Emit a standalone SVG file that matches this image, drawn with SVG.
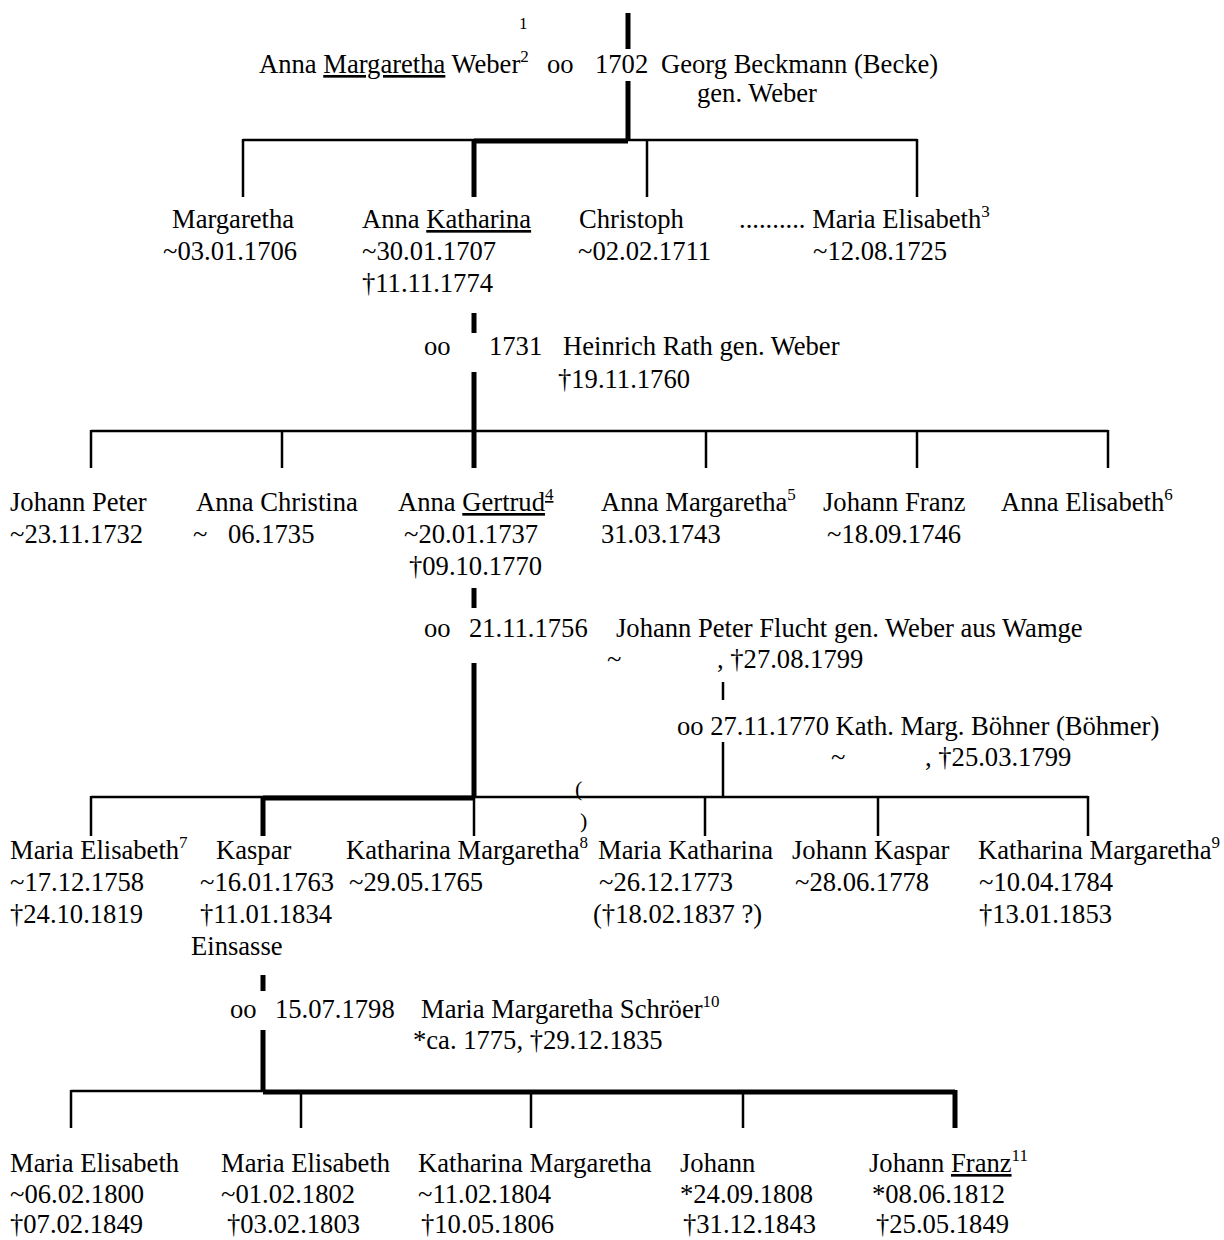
<svg xmlns="http://www.w3.org/2000/svg" width="1224" height="1240" viewBox="0 0 1224 1240">
<style>
.t{font-family:"Liberation Serif","Times New Roman",serif;font-size:26.6px;fill:#000}
.s{font-size:17px}
.u{text-decoration:underline}
.p{font-size:22px}
.thin{stroke:#000;stroke-width:2.5;fill:none}
.thick{stroke:#000;stroke-width:5;fill:none}
</style>
<rect width="1224" height="1240" fill="#fff"/>
<g id="connectors">
<line class="thick" x1="628" y1="13" x2="628" y2="49"/>
<line class="thick" x1="628" y1="81" x2="628" y2="141"/>
<line class="thin" x1="243" y1="140" x2="917" y2="140"/>
<line class="thick" x1="474" y1="141" x2="628" y2="141"/>
<line class="thin" x1="243" y1="139" x2="243" y2="197"/>
<line class="thick" x1="474" y1="139" x2="474" y2="197"/>
<line class="thin" x1="647" y1="139" x2="647" y2="197"/>
<line class="thin" x1="917" y1="139" x2="917" y2="197"/>
<line class="thick" x1="474" y1="313" x2="474" y2="333"/>
<line class="thick" x1="474" y1="372" x2="474" y2="468"/>
<line class="thin" x1="91" y1="431" x2="1108" y2="431"/>
<line class="thin" x1="91" y1="430" x2="91" y2="468"/>
<line class="thin" x1="282" y1="430" x2="282" y2="468"/>
<line class="thin" x1="706" y1="430" x2="706" y2="468"/>
<line class="thin" x1="917" y1="430" x2="917" y2="468"/>
<line class="thin" x1="1108" y1="430" x2="1108" y2="468"/>
<line class="thick" x1="474" y1="588" x2="474" y2="608"/>
<line class="thick" x1="474" y1="663" x2="474" y2="798"/>
<line class="thin" x1="723" y1="682" x2="723" y2="700"/>
<line class="thin" x1="723" y1="742" x2="723" y2="797"/>
<line class="thin" x1="91" y1="797" x2="1088" y2="797"/>
<line class="thick" x1="263" y1="798" x2="474" y2="798"/>
<line class="thin" x1="91" y1="796" x2="91" y2="836"/>
<line class="thick" x1="263" y1="796" x2="263" y2="836"/>
<line class="thin" x1="474" y1="796" x2="474" y2="836"/>
<line class="thin" x1="705" y1="796" x2="705" y2="836"/>
<line class="thin" x1="878" y1="796" x2="878" y2="836"/>
<line class="thin" x1="1088" y1="796" x2="1088" y2="836"/>
<line class="thick" x1="263" y1="975" x2="263" y2="991"/>
<line class="thick" x1="263" y1="1030" x2="263" y2="1092"/>
<line class="thin" x1="71" y1="1091" x2="263" y2="1091"/>
<line class="thick" x1="263" y1="1092" x2="955" y2="1092"/>
<line class="thin" x1="71" y1="1090" x2="71" y2="1128"/>
<line class="thin" x1="301" y1="1090" x2="301" y2="1128"/>
<line class="thin" x1="531" y1="1090" x2="531" y2="1128"/>
<line class="thin" x1="743" y1="1090" x2="743" y2="1128"/>
<line class="thick" x1="955" y1="1090" x2="955" y2="1128"/>
</g>
<g id="n-top">
<text x="519" y="29" class="t s">1</text>
<text x="259" y="73" class="t">Anna <tspan class="u">Margaretha</tspan> Weber<tspan class="s" dy="-11">2</tspan></text>
<text x="547" y="73" class="t">oo</text>
<text x="595" y="73" class="t">1702</text>
<text x="661" y="73" class="t">Georg Beckmann (Becke)</text>
<text x="697" y="102" class="t">gen. Weber</text>
</g>
<g id="n-margaretha"><text x="172" y="228" class="t">Margaretha</text><text x="163" y="260" class="t">~03.01.1706</text></g>
<g id="n-annakatharina"><text x="362" y="228" class="t">Anna <tspan class="u">Katharina</tspan></text><text x="362" y="260" class="t">~30.01.1707</text><text x="362" y="292" class="t">†11.11.1774</text></g>
<g id="n-christoph"><text x="579" y="228" class="t">Christoph</text><text x="578" y="260" class="t">~02.02.1711</text></g>
<g id="n-mariaelisabeth1"><text x="739" y="228" class="t">.......... Maria Elisabeth<tspan class="s" dy="-11">3</tspan></text><text x="813" y="260" class="t">~12.08.1725</text></g>
<g id="n-heinrich"><text x="424" y="355" class="t">oo</text><text x="489" y="355" class="t">1731</text><text x="563" y="355" class="t">Heinrich Rath gen. Weber</text><text x="558" y="388" class="t">†19.11.1760</text></g>
<g id="n-johannpeter"><text x="10" y="511" class="t">Johann Peter</text><text x="10" y="543" class="t">~23.11.1732</text></g>
<g id="n-annachristina"><text x="196" y="511" class="t">Anna Christina</text><text x="193" y="543" class="t">~</text><text x="228" y="543" class="t">06.1735</text></g>
<g id="n-annagertrud"><text x="398" y="511" class="t">Anna <tspan class="u">Gertrud<tspan class="s" dy="-11">4</tspan></tspan></text><text x="404" y="543" class="t">~20.01.1737</text><text x="409" y="575" class="t">†09.10.1770</text></g>
<g id="n-annamargaretha"><text x="601" y="511" class="t">Anna Margaretha<tspan class="s" dy="-11">5</tspan></text><text x="601" y="543" class="t">31.03.1743</text></g>
<g id="n-johannfranz1"><text x="823" y="511" class="t">Johann Franz</text><text x="827" y="543" class="t">~18.09.1746</text></g>
<g id="n-annaelisabeth"><text x="1001" y="511" class="t">Anna Elisabeth<tspan class="s" dy="-11">6</tspan></text></g>
<g id="n-flucht"><text x="424" y="637" class="t">oo</text><text x="469" y="637" class="t">21.11.1756</text><text x="616" y="637" class="t">Johann Peter Flucht gen. Weber aus Wamge</text><text x="607" y="668" class="t">~</text><text x="717" y="668" class="t">, †27.08.1799</text></g>
<g id="n-boehner"><text x="677" y="735" class="t">oo 27.11.1770 Kath. Marg. Böhner (Böhmer)</text><text x="831" y="766" class="t">~</text><text x="925" y="766" class="t">, †25.03.1799</text></g>
<g id="n-mariaelisabeth2"><text x="10" y="859" class="t">Maria Elisabeth<tspan class="s" dy="-11">7</tspan></text><text x="10" y="891" class="t">~17.12.1758</text><text x="10" y="923" class="t">†24.10.1819</text></g>
<g id="n-kaspar"><text x="216" y="859" class="t">Kaspar</text><text x="200" y="891" class="t">~16.01.1763</text><text x="200" y="923" class="t">†11.01.1834</text><text x="191" y="955" class="t">Einsasse</text></g>
<g id="n-katharinamargaretha1"><text x="346" y="859" class="t">Katharina Margaretha<tspan class="s" dy="-11">8</tspan></text><text x="349" y="891" class="t">~29.05.1765</text><text x="575" y="796" class="t p">(</text><text x="580" y="828" class="t p">)</text></g>
<g id="n-mariakatharina"><text x="598" y="859" class="t">Maria Katharina</text><text x="599" y="891" class="t">~26.12.1773</text><text x="593" y="923" class="t">(†18.02.1837 ?)</text></g>
<g id="n-johannkaspar"><text x="792" y="859" class="t">Johann Kaspar</text><text x="795" y="891" class="t">~28.06.1778</text></g>
<g id="n-katharinamargaretha2"><text x="978" y="859" class="t">Katharina Margaretha<tspan class="s" dy="-11">9</tspan></text><text x="979" y="891" class="t">~10.04.1784</text><text x="979" y="923" class="t">†13.01.1853</text></g>
<g id="n-schroeer"><text x="230" y="1018" class="t">oo</text><text x="275" y="1018" class="t">15.07.1798</text><text x="421" y="1018" class="t">Maria Margaretha Schröer<tspan class="s" dy="-11">10</tspan></text><text x="413" y="1049" class="t">*ca. 1775, †29.12.1835</text></g>
<g id="n-mariaelisabeth3"><text x="10" y="1172" class="t">Maria Elisabeth</text><text x="10" y="1203" class="t">~06.02.1800</text><text x="10" y="1233" class="t">†07.02.1849</text></g>
<g id="n-mariaelisabeth4"><text x="221" y="1172" class="t">Maria Elisabeth</text><text x="221" y="1203" class="t">~01.02.1802</text><text x="227" y="1233" class="t">†03.02.1803</text></g>
<g id="n-katharinamargaretha3"><text x="418" y="1172" class="t">Katharina Margaretha</text><text x="418" y="1203" class="t">~11.02.1804</text><text x="421" y="1233" class="t">†10.05.1806</text></g>
<g id="n-johann"><text x="680" y="1172" class="t">Johann</text><text x="680" y="1203" class="t">*24.09.1808</text><text x="683" y="1233" class="t">†31.12.1843</text></g>
<g id="n-johannfranz2"><text x="869" y="1172" class="t">Johann <tspan class="u">Franz</tspan><tspan class="s" dy="-11">11</tspan></text><text x="872" y="1203" class="t">*08.06.1812</text><text x="876" y="1233" class="t">†25.05.1849</text></g>
</svg>
